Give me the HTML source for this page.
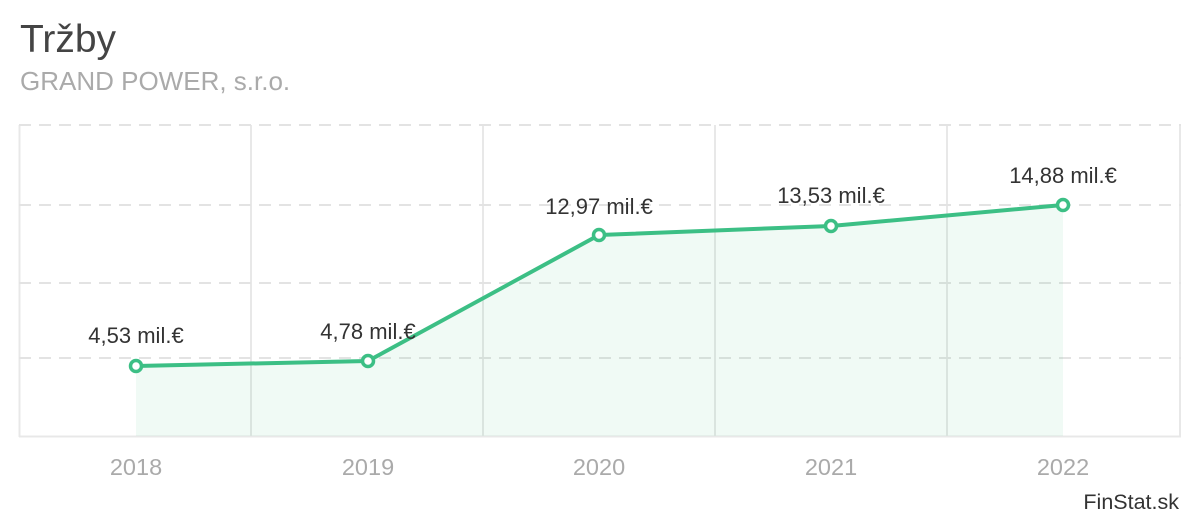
<!DOCTYPE html>
<html><head><meta charset="utf-8"><style>
html,body{margin:0;padding:0;background:#fff;}
body{width:1200px;height:520px;overflow:hidden;}
</style></head><body>
<svg width="1200" height="520" xmlns="http://www.w3.org/2000/svg" font-family="Liberation Sans, sans-serif">
<text x="20" y="52" font-size="39" fill="#444">Tržby</text>
<text x="20" y="90" font-size="26" fill="#aaa">GRAND POWER, s.r.o.</text>
<g stroke="#e8e8e8" stroke-width="2">
<line x1="19.5" y1="125" x2="19.5" y2="437"/>
<line x1="251" y1="125" x2="251" y2="437"/>
<line x1="483" y1="125" x2="483" y2="437"/>
<line x1="715" y1="125" x2="715" y2="437"/>
<line x1="947" y1="125" x2="947" y2="437"/>
<line x1="1180" y1="125" x2="1180" y2="437"/>
<line x1="19" y1="436.5" x2="1181" y2="436.5"/>
</g>
<g stroke="#e3e3e3" stroke-width="2" stroke-dasharray="12,8">
<line x1="19" y1="125" x2="1181" y2="125"/>
<line x1="19" y1="205" x2="1181" y2="205"/>
<line x1="19" y1="283" x2="1181" y2="283"/>
<line x1="19" y1="358" x2="1181" y2="358"/>
</g>
<polygon points="136,366 368,361 599,235 831,226 1063,205 1063,436 136,436" fill="#3cbf85" fill-opacity="0.08"/>
<polyline points="136,366 368,361 599,235 831,226 1063,205" fill="none" stroke="#3cbf85" stroke-width="4" stroke-linejoin="round"/>
<g fill="#fff" stroke="#3cbf85" stroke-width="3.5">
<circle cx="136" cy="366" r="5.5"/>
<circle cx="368" cy="361" r="5.5"/>
<circle cx="599" cy="235" r="5.5"/>
<circle cx="831" cy="226" r="5.5"/>
<circle cx="1063" cy="205" r="5.5"/>
</g>
<g font-size="22" fill="#333" text-anchor="middle">
<text x="136" y="343">4,53 mil.€</text>
<text x="368" y="339">4,78 mil.€</text>
<text x="599" y="214">12,97 mil.€</text>
<text x="831" y="203">13,53 mil.€</text>
<text x="1063" y="183">14,88 mil.€</text>
</g>
<g font-size="23.5" fill="#aaa" text-anchor="middle">
<text x="136" y="475">2018</text>
<text x="368" y="475">2019</text>
<text x="599" y="475">2020</text>
<text x="831" y="475">2021</text>
<text x="1063" y="475">2022</text>
</g>
<text x="1179" y="509" font-size="21.5" fill="#333" text-anchor="end">FinStat.sk</text>
</svg>
</body></html>
